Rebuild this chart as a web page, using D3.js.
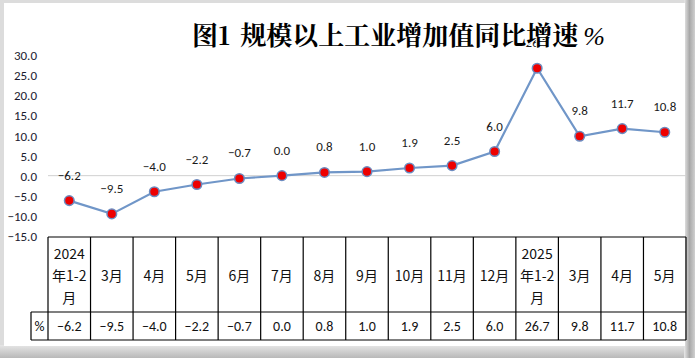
<!DOCTYPE html>
<html><head><meta charset="utf-8">
<script src="https://cdn.jsdelivr.net/npm/d3@7"></script>
<style>html,body{margin:0;padding:0;background:#fff;}svg{display:block;}</style>
</head><body>
<svg id="c" width="695" height="358"></svg>
<script>
const categories = [["2024","年1-2","月"],["3月"],["4月"],["5月"],["6月"],["7月"],["8月"],["9月"],["10月"],["11月"],["12月"],["2025","年1-2","月"],["3月"],["4月"],["5月"]];
const values = [-6.2,-9.5,-4.0,-2.2,-0.7,0.0,0.8,1.0,1.9,2.5,6.0,26.7,9.8,11.7,10.8];
const yTicks = [-15,-10,-5,0,5,10,15,20,25,30];
const titleParts = ["图1", "规模以上工业增加值同比增速", "%"];
const unitLabel = "%";

const svg = d3.select("#c");
const W = 695, H = 358;
const numFont = "Carlito, 'Liberation Sans', Arial, sans-serif";
const cjkFont = "'Noto Sans CJK SC', sans-serif";

// frame
const defs = svg.append("defs");
const gb = defs.append("linearGradient").attr("id","gb").attr("x1",0).attr("y1",0).attr("x2",0).attr("y2",1);
gb.append("stop").attr("offset","0").attr("stop-color","#e6e6e6");
gb.append("stop").attr("offset","1").attr("stop-color","#b8b8b8");
const gr = defs.append("linearGradient").attr("id","gr").attr("x1",0).attr("y1",0).attr("x2",1).attr("y2",0);
gr.append("stop").attr("offset","0").attr("stop-color","#e8e8e8");
gr.append("stop").attr("offset","0.5").attr("stop-color","#a8a8a8");
gr.append("stop").attr("offset","1").attr("stop-color","#d0d0d0");
svg.append("rect").attr("x",0).attr("y",0).attr("width",W).attr("height",H).attr("fill","#dcdcdc");
svg.append("rect").attr("x",0).attr("y",345).attr("width",W).attr("height",13).attr("fill","url(#gb)");
svg.append("rect").attr("x",684).attr("y",0).attr("width",11).attr("height",H).attr("fill","url(#gr)");
svg.append("rect").attr("x",4).attr("y",3).attr("width",681).attr("height",343).attr("fill","#fff");

const x = d3.scaleBand().domain(d3.range(categories.length)).range([48, 686]).padding(0);
const y = d3.scaleLinear().domain([-15, 30]).range([236, 55]);
const cx = i => x(i) + x.bandwidth()/2;

// y tick labels
const yAxis = d3.axisLeft(y).tickValues(yTicks).tickFormat(d3.format(".1f")).tickSize(0).tickPadding(0);
const ga = svg.append("g").attr("transform","translate(37,0)").call(yAxis);
ga.select(".domain").remove();
ga.selectAll("text").attr("font-family",numFont).attr("font-size",13).attr("fill","#1a1a2e").attr("dy","0.35em");

// zero line
svg.append("line").attr("x1",48).attr("x2",686).attr("y1",y(0)).attr("y2",y(0)).attr("stroke","#d0d0d0").attr("stroke-width",1);

// line
const line = d3.line().x((d,i)=>cx(i)).y(d=>y(d));
svg.append("path").datum(values).attr("d",line).attr("fill","none").attr("stroke","#7096c8").attr("stroke-width",2.2);

// data labels
svg.append("g").selectAll("text").data(values).join("text")
  .attr("x",(d,i)=>cx(i)).attr("y",d=>y(d)-21)
  .attr("text-anchor","middle").attr("font-family",numFont).attr("font-size",13).attr("fill","#1a1a1a")
  .text(d=>d3.format(".1f")(d));

// markers
svg.append("g").selectAll("circle").data(values).join("circle")
  .attr("cx",(d,i)=>cx(i)).attr("cy",d=>y(d)).attr("r",4.8)
  .attr("fill","#ee0000").attr("stroke","#6c8cc0").attr("stroke-width",1.5);

// title
const tt = svg.append("text").attr("x",192).attr("y",45).attr("font-family","'Noto Serif CJK SC','Noto Sans CJK SC',serif")
  .attr("font-size",26).attr("font-weight","bold").attr("fill","#000")
  .attr("stroke","#fff").attr("stroke-width",2).attr("paint-order","stroke");
tt.append("tspan").text(titleParts[0]);
tt.append("tspan").attr("dx",10).text(titleParts[1]);
tt.append("tspan").attr("dx",5).attr("font-family","'Liberation Serif','Times New Roman',serif").attr("font-style","italic").attr("font-weight","normal").text(titleParts[2]);

// table
const tTop = 237, tMid = 312, tBot = 340;
const tg = svg.append("g").attr("stroke","#000").attr("stroke-width",1.2);
tg.append("line").attr("x1",48).attr("x2",686).attr("y1",tTop).attr("y2",tTop);
tg.append("line").attr("x1",31).attr("x2",686).attr("y1",tMid).attr("y2",tMid);
tg.append("line").attr("x1",31).attr("x2",686).attr("y1",tBot).attr("y2",tBot);
tg.append("line").attr("x1",31).attr("x2",31).attr("y1",tMid).attr("y2",tBot);
const bounds = d3.range(categories.length).map(i=>x(i)).concat([686]);
tg.selectAll(".v").data(bounds).join("line").attr("class","v")
  .attr("x1",d=>d).attr("x2",d=>d).attr("y1",tTop).attr("y2",tBot);

// category labels
const cg = svg.append("g").attr("font-family",cjkFont).attr("font-size",14).attr("fill","#111").attr("text-anchor","middle");
categories.forEach((c,i)=>{
  const n = c.length;
  const lh = 22;
  const mid = 276;
  c.forEach((s,j)=>{
    cg.append("text").attr("x",cx(i)).attr("y",mid + (j-(n-1)/2)*lh).attr("dy","0.36em").text(s);
  });
});
// values row
svg.append("text").attr("x",39.5).attr("y",(tMid+tBot)/2).attr("dy","0.36em").attr("text-anchor","middle")
  .attr("font-family",numFont).attr("font-size",14).attr("fill","#111").text(unitLabel);
svg.append("g").selectAll("text").data(values).join("text")
  .attr("x",(d,i)=>cx(i)).attr("y",(tMid+tBot)/2).attr("dy","0.36em").attr("text-anchor","middle")
  .attr("font-family",numFont).attr("font-size",14).attr("fill","#111").text(d=>d3.format(".1f")(d));
</script>
</body></html>
